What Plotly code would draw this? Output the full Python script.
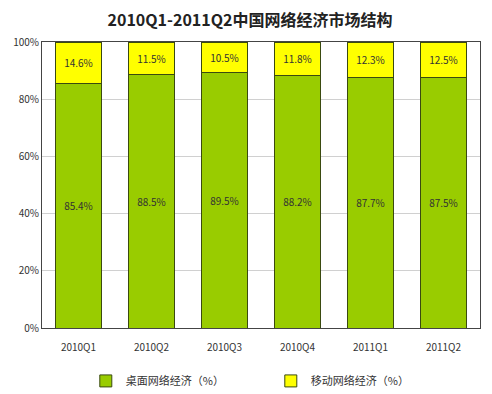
import plotly.graph_objects as go

categories = ["2010Q1", "2010Q2", "2010Q3", "2010Q4", "2011Q1", "2011Q2"]
desktop = [85.4, 88.5, 89.5, 88.2, 87.7, 87.5]
mobile = [14.6, 11.5, 10.5, 11.8, 12.3, 12.5]
series_names = ["桌面网络经济（%）", "移动网络经济（%）"]
tick_vals = [0, 20, 40, 60, 80, 100]
tick_text = ["0%", "20%", "40%", "60%", "80%", "100%"]

font_family = "Noto Sans CJK SC, Noto Sans, sans-serif"

fig = go.Figure()
fig.add_trace(go.Bar(
    x=categories, y=desktop, name=series_names[0],
    marker=dict(color="#99CC00", line=dict(color="#3a4a10", width=1)),
    text=[f"{v}%" for v in desktop], textposition="inside", insidetextanchor="middle",
    textfont=dict(size=10, color="#333333"),
))
fig.add_trace(go.Bar(
    x=categories, y=mobile, name=series_names[1],
    marker=dict(color="#FFFF00", line=dict(color="#3a4a10", width=1)),
    text=[f"{v}%" for v in mobile], textposition="inside", insidetextanchor="middle",
    textfont=dict(size=10, color="#333333"),
))

# page has an 8px body margin, so the figure is sized to fit the 492x394 window
fig.update_layout(
    barmode="stack",
    bargap=0.37,
    width=484, height=386,
    margin=dict(l=34, r=12, t=34, b=66, autoexpand=False),
    paper_bgcolor="white", plot_bgcolor="white",
    font=dict(family=font_family, size=10, color="#333333"),
    title=dict(text="<b>2010Q1-2011Q2中国网络经济市场结构</b>", x=0.5, xanchor="center",
               y=0.967, yanchor="middle", font=dict(size=16, color="#222222")),
    showlegend=True,
    legend=dict(orientation="h", x=0.1, xanchor="left", y=-0.185, yanchor="middle",
                font=dict(size=11, color="#333333"), itemwidth=30, traceorder="normal",
                entrywidth=140, bgcolor="rgba(0,0,0,0)"),
    uniformtext=dict(mode="show", minsize=9),
)
fig.update_xaxes(showline=True, linecolor="#444444", linewidth=1, mirror=True,
                 ticks="", ticklabelstandoff=10, tickfont=dict(size=10, color="#333333"))
fig.update_yaxes(range=[0, 100], tickvals=tick_vals, ticktext=tick_text,
                 showgrid=True, gridcolor="#d0d0d0", gridwidth=1,
                 showline=True, linecolor="#444444", linewidth=1, mirror=True,
                 ticks="", tickfont=dict(size=10, color="#333333"), zeroline=False)

fig.write_html("out.html")
